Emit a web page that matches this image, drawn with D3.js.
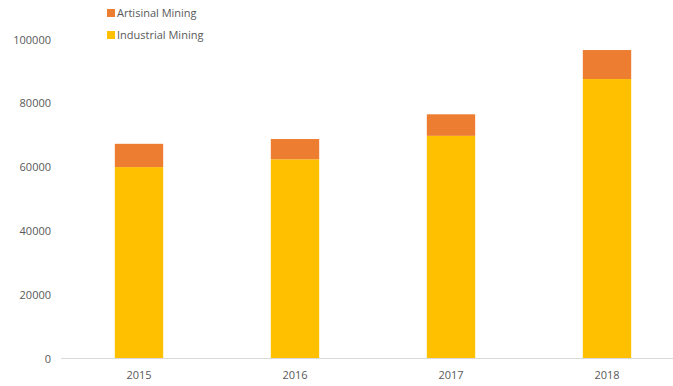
<!DOCTYPE html>
<html>
<head>
<meta charset="utf-8">
<script src="https://cdn.jsdelivr.net/npm/d3@7"></script>
<style>
  html, body { margin: 0; padding: 0; background: #fff; }
  svg { display: block; }
  text { font-family: "Open Sans", "Liberation Sans", sans-serif; fill: #595959; }
</style>
</head>
<body>
<svg id="chart" width="673" height="386"></svg>
<script>
// Mining output by year, split by sector
const years = ["2015", "2016", "2017", "2018"];
const industrial = [60000, 62450, 69800, 87600];
const artisinal = [7300, 6350, 6750, 9100];
const seriesNames = ["Artisinal Mining", "Industrial Mining"];
const seriesColors = ["#ED7D31", "#FFC000"];
const yTicks = [0, 20000, 40000, 60000, 80000, 100000];

const rows = years.map((y, i) => ({ year: y, industrial: industrial[i], artisinal: artisinal[i] }));
const stack = d3.stack().keys(["industrial", "artisinal"])(rows);

const svg = d3.select("#chart");
const x = d3.scaleBand().domain(years).range([61, 685]).paddingInner(0.69).paddingOuter(0.345);
const y = d3.scaleLinear().domain([0, 100000]).range([358.5, 39.5]);

// Value axis labels (no line, no ticks)
const yAxis = d3.axisLeft(y).tickValues(yTicks).tickSize(0).tickPadding(0).tickFormat(d3.format("d"));
const gy = svg.append("g").attr("transform", "translate(51,0)").call(yAxis);
gy.select(".domain").remove();
gy.selectAll("text").style("font-size", "11px").attr("fill", "#595959").attr("font-family", null);

// Stacked bars
const colorByKey = { industrial: seriesColors[1], artisinal: seriesColors[0] };
svg.append("g").selectAll("g").data(stack).join("g")
  .attr("fill", d => colorByKey[d.key])
  .selectAll("rect").data(d => d).join("rect")
  .attr("x", d => x(d.data.year))
  .attr("width", x.bandwidth())
  .attr("y", d => y(d[1]))
  .attr("height", d => y(d[0]) - y(d[1]));

// Category axis
const xAxis = d3.axisBottom(x).tickSize(0).tickPadding(13);
const gx = svg.append("g").attr("transform", "translate(0,358.5)").call(xAxis);
gx.select(".domain").remove();
gx.selectAll("text").style("font-size", "11px").attr("fill", "#595959").attr("font-family", null);
svg.append("line")
  .attr("x1", 61).attr("x2", 673)
  .attr("y1", 358.5).attr("y2", 358.5)
  .attr("stroke", "#d9d9d9").attr("stroke-width", 1);

// Legend
const legend = svg.append("g").attr("transform", "translate(107,9)");
seriesNames.forEach((name, i) => {
  const g = legend.append("g").attr("transform", `translate(0,${i * 22})`);
  g.append("rect").attr("width", 8).attr("height", 8).attr("fill", seriesColors[i]);
  g.append("text").attr("x", 10).attr("y", 4).attr("dy", "0.35em")
    .style("font-size", "11px").text(name);
});
</script>
</body>
</html>
